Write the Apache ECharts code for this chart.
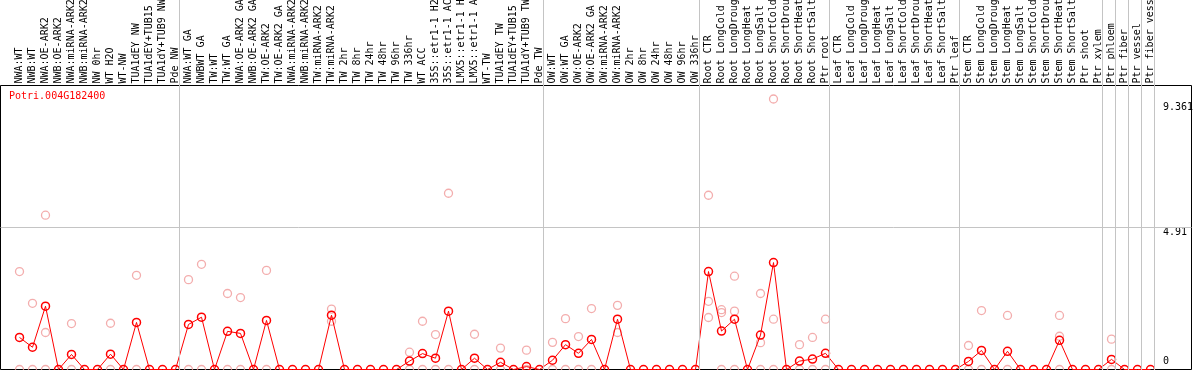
<!DOCTYPE html>
<html><head><meta charset="utf-8">
<script src="https://cdn.jsdelivr.net/npm/echarts@6/dist/echarts.min.js"></script>
<style>html,body{margin:0;padding:0;background:#fff}#c{width:1194px;height:370px}</style>
</head><body><div id="c"></div>
<script>
const geneTitle = 'Potri.004G182400';

const categories = [
  'NWA:WT','NWB:WT','NWA:OE-ARK2','NWB:OE-ARK2','NWA:miRNA-ARK2','NWB:miRNA-ARK2','NW 0hr','WT H2O','WT-NW','TUA1dEY NW','TUA1dEY+TUB15','TUA1dY+TUB9 NW','Pde NW',
  'NWA:WT GA','NWBWT GA','TW:WT','TW:WT GA','NWA:OE-ARK2 GA','NWB:OE-ARK2 GA','TW:OE-ARK2','TW:OE-ARK2 GA','NWA:miRNA-ARK2','NWB:miRNA-ARK2','TW:miRNA-ARK2','TW:miRNA-ARK2','TW 2hr','TW 8hr','TW 24hr','TW 48hr','TW 96hr','TW 336hr','WT ACC','35S::etr1-1 H2O','35S::etr1-1 ACC','LMX5::etr1-1 H2O','LMX5::etr1-1 ACC','WT-TW','TUA1dEY TW','TUA1dEY+TUB15','TUA1dY+TUB9 TW','Pde TW',
  'OW:WT','OW:WT GA','OW:OE-ARK2','OW:OE-ARK2 GA','OW:miRNA-ARK2','OW:miRNA-ARK2','OW 2hr','OW 8hr','OW 24hr','OW 48hr','OW 96hr','OW 336hr',
  'Root CTR','Root LongCold','Root LongDrought','Root LongHeat','Root LongSalt','Root ShortCold','Root ShortDrought','Root ShortHeat','Root ShortSalt','Ptr root',
  'Leaf CTR','Leaf LongCold','Leaf LongDrought','Leaf LongHeat','Leaf LongSalt','Leaf ShortCold','Leaf ShortDrought','Leaf ShortHeat','Leaf ShortSalt','Ptr leaf',
  'Stem CTR','Stem LongCold','Stem LongDrought','Stem LongHeat','Stem LongSalt','Stem ShortCold','Stem ShortDrought','Stem ShortHeat','Stem ShortSalt','Ptr shoot','Ptr xylem',
  'Ptr phloem','Ptr fiber','Ptr vessel','Ptr fiber vessel'
];

// mean expression (red line)
const meanValues = [
  1.11,0.77,2.19,0,0.52,0,0,0.53,0,1.63,0,0,0,
  1.56,1.81,0,1.32,1.25,0,1.70,0,0,0,0,1.88,0,0,0,0,0,0.29,0.55,0.39,2.02,0,0.39,0,0.25,0,0.10,0,
  0.32,0.86,0.56,1.04,0,1.74,0,0,0,0,0,0,
  3.39,1.33,1.74,0,1.19,3.70,0,0.29,0.36,0.56,
  0,0,0,0,0,0,0,0,0,0,
  0.28,0.66,0,0.63,0,0,0,1.01,0,0,0,
  0.35,0,0,0
];

// individual replicates (pink circles): [categoryIndex, value]
const replicates = [
  [0,3.39],[0,0],[1,2.29],[1,0],[2,5.34],[2,1.28],[2,0],[4,1.59],[4,0],[7,1.60],[7,0],[9,3.26],[9,0],
  [13,3.11],[13,0],[14,3.64],[14,0],[16,2.63],[16,0],[17,2.49],[17,0],[19,3.43],[19,0],[24,2.09],[24,1.67],
  [30,0.60],[30,0],[31,1.67],[31,0],[32,1.21],[32,0],[33,6.10],[33,0],[35,1.22],[35,0],[37,0.74],[37,0],[39,0.67],[39,0],
  [41,0.94],[41,0],[42,1.76],[42,0],[43,1.14],[43,0],[44,2.11],[44,0],[46,2.22],[46,1.28],
  [53,6.03],[53,2.36],[53,1.80],[54,2.07],[54,1.97],[54,0],[55,3.23],[55,2.02],[55,0],[57,2.63],[57,0.93],[57,0],
  [58,9.361],[58,1.74],[58,0],[60,0.86],[60,0],[61,1.11],[61,0],[62,1.74],[62,0],
  [73,0.83],[73,0],[74,2.04],[74,0],[76,1.87],[76,0],[80,1.87],[80,1.15],[80,0],[84,1.05],[84,0]
];

// index of first category of each group (separator lines drawn before them)
const groupStarts = [0,13,41,53,63,73,84,85,86,87,88];
const yTicks = [0, 4.91, 9.361];
const gridLineValue = 4.91;

const FONT = 'DejaVu Sans Mono';
const Y_MAX = 9.829;
const SEP_OFFSET = 9 / 13;
const LABEL_STYLES = ['b', 't', 'h'];

const chart = echarts.init(document.getElementById('c'), null, {renderer: 'canvas'});
chart.setOption({
  animation: false,
  backgroundColor: '#fff',
  title: {
    text: geneTitle, left: 9, top: 91, padding: 0,
    textStyle: {color: '#ff0000', fontFamily: FONT, fontSize: 10, fontWeight: 'normal'}
  },
  grid: [
    {left: 0.5, right: 2.5, top: 85.5, bottom: 0.5, show: true, borderColor: '#000', borderWidth: 1, backgroundColor: 'transparent', outerBoundsMode: 'none', containLabel: false},
    {left: 13, width: 1144, top: 85.5, bottom: 0.5, outerBoundsMode: 'none', containLabel: false},
    {left: 13, width: 1144, top: 0, bottom: 0, outerBoundsMode: 'none', containLabel: false}
  ],
  xAxis: [
    {gridIndex: 0, type: 'value', min: 0, max: 1, show: false},
    {gridIndex: 1, type: 'category', data: categories, position: 'top', boundaryGap: true,
     axisLine: {show: false, onZero: false}, axisTick: {show: false}, splitLine: {show: false},
     axisLabel: {rotate: -90, interval: 0, margin: 2, fontFamily: FONT, fontSize: 10, color: '#000', hideOverlap: false}},
    {gridIndex: 2, type: 'value', min: -0.5, max: categories.length - 0.5, show: false}
  ],
  yAxis: [
    {gridIndex: 0, type: 'value', min: 0, max: Y_MAX, show: false},
    {gridIndex: 1, type: 'value', min: 0, max: Y_MAX, position: 'right',
     axisLine: {show: false}, axisTick: {show: false}, splitLine: {show: false},
     axisLabel: {
       customValues: yTicks, margin: 6, showMinLabel: true, showMaxLabel: true,
       formatter: function (v) {
         let best = 0;
         yTicks.forEach((t, i) => { if (Math.abs(t - v) < Math.abs(yTicks[best] - v)) best = i; });
         return '{' + LABEL_STYLES[best] + '|' + String(yTicks[best]) + '}';
       },
       rich: {
         t: {padding: [10, 0, 0, 0], fontFamily: FONT, fontSize: 10, color: '#000'},
         h: {padding: [17, 0, 0, 0], fontFamily: FONT, fontSize: 10, color: '#000'},
         b: {padding: [0, 0, 16, 0], fontFamily: FONT, fontSize: 10, color: '#000'}
       }
     }},
    {gridIndex: 2, type: 'value', min: 0, max: 1, show: false}
  ],
  series: [
    {
      type: 'line', xAxisIndex: 0, yAxisIndex: 0, data: [], silent: true,
      markLine: {silent: true, symbol: ['none', 'none'], label: {show: false},
        lineStyle: {color: '#c4c4c4', type: 'solid', width: 1},
        data: [{yAxis: gridLineValue}]}
    },
    {
      type: 'line', xAxisIndex: 2, yAxisIndex: 2, data: [], silent: true,
      markLine: {silent: true, symbol: ['none', 'none'], label: {show: false},
        lineStyle: {color: '#c4c4c4', type: 'solid', width: 1},
        data: groupStarts.map(s => ({xAxis: s - SEP_OFFSET}))}
    },
    {
      type: 'scatter', xAxisIndex: 1, yAxisIndex: 1, data: replicates, clip: false,
      symbol: 'circle', symbolSize: 8, z: 3,
      itemStyle: {color: 'rgba(0,0,0,0)', borderColor: '#f09898', borderWidth: 1.3},
      emphasis: {disabled: true}
    },
    {
      type: 'line', xAxisIndex: 1, yAxisIndex: 1, data: meanValues, clip: false,
      symbol: 'circle', symbolSize: 8, showAllSymbol: true, z: 4,
      lineStyle: {color: '#ff0000', width: 1},
      itemStyle: {color: 'rgba(0,0,0,0)', borderColor: '#ff0000', borderWidth: 1.5},
      emphasis: {disabled: true}
    }
  ]
});
</script>
</body></html>
